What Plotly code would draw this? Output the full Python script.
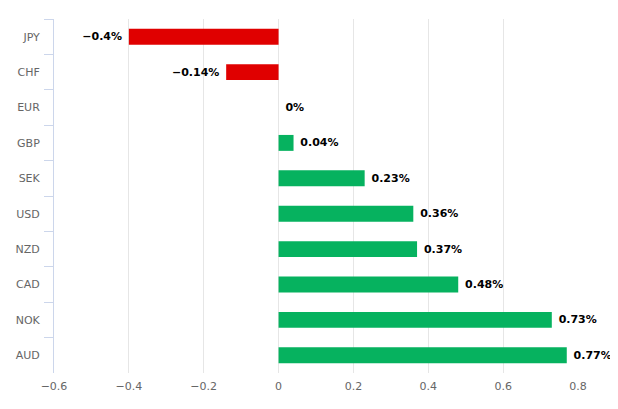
import plotly.graph_objects as go

currencies = ["JPY", "CHF", "EUR", "GBP", "SEK", "USD", "NZD", "CAD", "NOK", "AUD"]
changes = [-0.4, -0.14, 0.0, 0.04, 0.23, 0.36, 0.37, 0.48, 0.73, 0.77]
labels = ["\u22120.4%", "\u22120.14%", "0%", "0.04%", "0.23%", "0.36%", "0.37%", "0.48%", "0.73%", "0.77%"]
x_ticks = [-0.6, -0.4, -0.2, 0, 0.2, 0.4, 0.6, 0.8]
x_tick_text = ["\u22120.6", "\u22120.4", "\u22120.2", "0", "0.2", "0.4", "0.6", "0.8"]

colors = ["#e00000" if v < 0 else "#06b25f" for v in changes]
pad = "\u00a0"
shown = [(l + pad) if v < 0 else (pad + l) for l, v in zip(labels, changes)]

fig = go.Figure(go.Bar(
    x=changes, y=currencies, orientation="h",
    marker=dict(color=colors, line=dict(width=0)),
    text=shown, textposition="outside", cliponaxis=False,
    textfont=dict(family="DejaVu Sans", size=11, color="#000000", weight="bold"),
))

fig.update_layout(
    width=618, height=409,
    margin=dict(l=46, r=48, t=11, b=44, autoexpand=False),
    plot_bgcolor="white", paper_bgcolor="white",
    bargap=0.55, showlegend=False,
    font=dict(family="DejaVu Sans", size=11, color="#666666"),
    uniformtext=dict(minsize=11, mode="show"),
)
fig.update_xaxes(
    range=[-0.6, 0.8], tickvals=x_ticks, ticktext=x_tick_text,
    showgrid=True, gridcolor="#e6e6e6", gridwidth=1,
    zeroline=False, showline=False, ticks="", automargin=False,
    ticklabelstandoff=5,
    tickfont=dict(size=11, color="#666666"),
)
fig.update_yaxes(
    categoryorder="array", categoryarray=currencies, autorange="reversed",
    showline=True, linecolor="#ccd6eb", linewidth=1,
    ticks="outside", tickson="boundaries", ticklen=9, tickcolor="#ccd6eb",
    ticklabelstandoff=11,
    showgrid=False, automargin=False, tickfont=dict(size=11, color="#666666"),
)

fig.write_html("out.html")
